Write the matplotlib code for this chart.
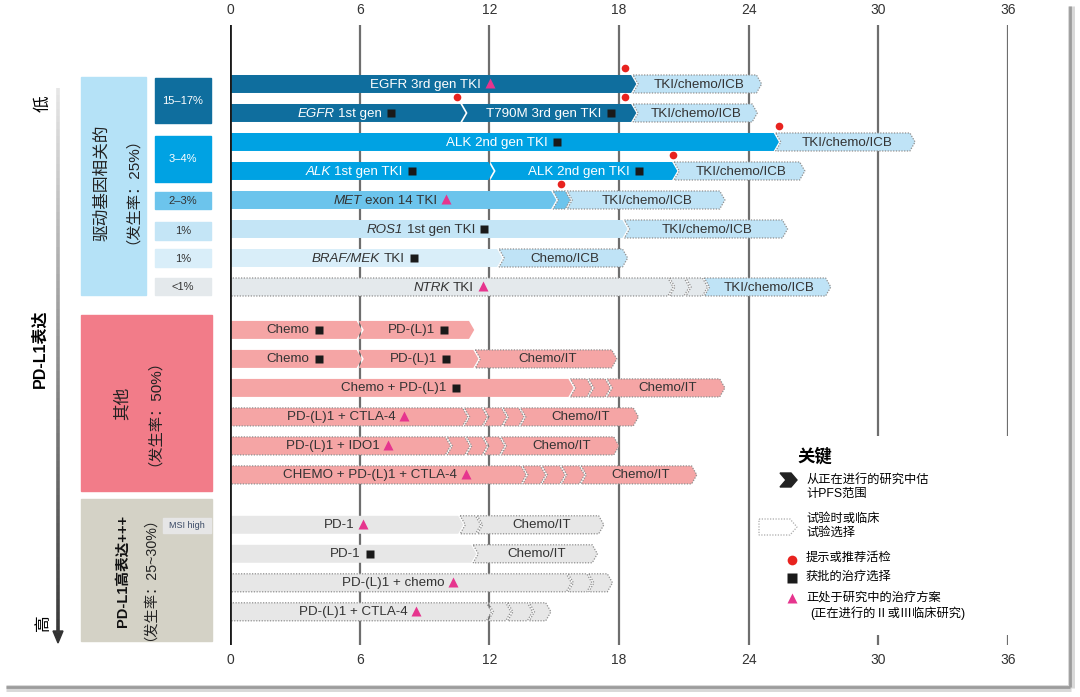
import matplotlib
matplotlib.use("Agg")
import numpy as np
import matplotlib.pyplot as plt
from matplotlib.patches import Polygon, Rectangle
from matplotlib.collections import LineCollection

plt.rcParams['font.family'] = ['Liberation Sans', 'Noto Sans CJK SC', 'DejaVu Sans']

# ---- data -------------------------------------------------------------
months = [0, 6, 12, 18, 24, 30, 36]
group_sizes = [8, 6, 4]

# end of each therapy segment (months), one list per row
seg_ends = [
    [18.8, 24.6],
    [10.9, 18.8, 24.4],
    [25.4, 31.7],
    [12.2, 20.7, 26.6],
    [15.1, 15.75, 22.9],
    [18.4, 25.8],
    [12.6, 18.4],
    [20.5, 21.25, 22.1, 27.8],
    [6.1, 11.3],
    [6.1, 11.5, 17.9],
    [15.9, 16.75, 17.6, 22.9],
    [11.0, 11.9, 12.8, 13.6, 18.9],
    [10.2, 11.1, 11.9, 12.7, 18.0],
    [13.7, 14.6, 15.5, 16.4, 21.6],
    [10.8, 11.6, 17.3],
    [11.4, 17.0],
    [15.8, 16.75, 17.7],
    [12.1, 13.0, 14.0, 14.85],
]
# text before "|" is the gene name, set in italics
seg_labels = [
    ["EGFR 3rd gen TKI", "TKI/chemo/ICB"],
    ["EGFR|1st gen", "T790M 3rd gen TKI", "TKI/chemo/ICB"],
    ["ALK 2nd gen TKI", "TKI/chemo/ICB"],
    ["ALK|1st gen TKI", "ALK 2nd gen TKI", "TKI/chemo/ICB"],
    ["MET|exon 14 TKI", "", "TKI/chemo/ICB"],
    ["ROS1|1st gen TKI", "TKI/chemo/ICB"],
    ["BRAF/MEK|TKI", "Chemo/ICB"],
    ["NTRK|TKI", "", "", "TKI/chemo/ICB"],
    ["Chemo", "PD-(L)1"],
    ["Chemo", "PD-(L)1", "Chemo/IT"],
    ["Chemo + PD-(L)1", "", "", "Chemo/IT"],
    ["PD-(L)1 + CTLA-4", "", "", "", "Chemo/IT"],
    ["PD-(L)1 + IDO1", "", "", "", "Chemo/IT"],
    ["CHEMO + PD-(L)1 + CTLA-4", "", "", "", "Chemo/IT"],
    ["PD-1", "", "Chemo/IT"],
    ["PD-1", "Chemo/IT"],
    ["PD-(L)1 + chemo", "", ""],
    ["PD-(L)1 + CTLA-4", "", "", ""],
]
# S = approved (square), T = under study (triangle)
seg_marks = ["T-", "SS-", "S-", "SS-", "T--", "S-", "S-", "T---",
             "SS", "SS-", "S---", "T----", "T----", "T----",
             "T--", "S-", "T--", "T---"]
# 1 = trial / clinical-trial option (dotted outline)
seg_trial = ["01", "001", "01", "001", "011", "01", "01", "1111",
             "00", "001", "0111", "11111", "11111", "11111",
             "011", "01", "111", "1111"]
seg_fill = ["ei", "eei", "ai", "aai", "mmi", "ri", "bi", "nnni",
            "pp", "ppp", "pppp", "ppppp", "ppppp", "ppppp",
            "ggg", "gg", "ggg", "gggg"]
# where a biopsy is suggested
biopsy_rows = [0, 1, 1, 2, 3, 4]
biopsy_at = [18.3, 10.5, 18.3, 25.4, 20.5, 15.3]

driver_freq = ["15–17%", "3–4%", "2–3%", "1%", "1%", "<1%"]

# ---- style ------------------------------------------------------------
fills = {'e': '#0f6e9e', 'a': '#00a2e3', 'm': '#6cc4ec', 'r': '#c4e5f6',
         'b': '#d9eef9', 'n': '#e4e9ec', 'i': '#bfe3f6', 'p': '#f5a5a5',
         'g': '#e7e7e7'}
light_text = {'e', 'a'}
TIP = 0.24
GAP = 0.09
HH = 0.31
GRID = '#6e6e6e'

fig = plt.figure(figsize=(10.8, 6.97), dpi=100)
fig.patch.set_facecolor('white')

# overlay in pixel coordinates for the side panels and the key
axp = fig.add_axes([0, 0, 1, 1], zorder=0)
axp.set_xlim(0, 1080)
axp.set_ylim(697, 0)
axp.axis('off')

ax = fig.add_axes([230 / 1080, 1 - 645 / 697, 778 / 1080, 620 / 697], zorder=1)
ax.patch.set_alpha(0)
ax.set_xlim(0, 36)
ax.set_ylim(19.345, -2.034)
for s in ax.spines.values():
    s.set_visible(False)
ax.set_yticks([])
ax.set_xticks(months)
ax.tick_params(axis='x', top=True, labeltop=True, bottom=True, labelbottom=True,
               length=0, labelsize=10, labelcolor='#333333', pad=6)

# row positions
row_y = []
gaps = [0, 0.48, 1.2]
k = 0
for g, n in enumerate(group_sizes):
    for i in range(n):
        row_y.append(k + gaps[g])
        k += 1

# grid
for m in months:
    if m == 0:
        ax.axvline(0, color='#1a1a1a', lw=2, zorder=4)
    elif m in (30, 36):
        ax.vlines(m, -2.034, 12.14, color=GRID, lw=1.6, zorder=0)
        ax.vlines(m, 19.0, 19.345, color=GRID, lw=1.6, zorder=0)
    else:
        ax.axvline(m, color=GRID, lw=1.6, zorder=0)

tagged = []
for r, yc in enumerate(row_y):
    ends = seg_ends[r]
    for j, x1 in enumerate(ends):
        notch = j > 0
        x0 = ends[j - 1] - TIP + GAP if notch else 0
        top, bot = yc - HH, yc + HH
        pts = [(x0, top), (x1 - TIP, top), (x1, yc), (x1 - TIP, bot), (x0, bot)]
        if notch:
            pts.append((x0 + TIP, yc))
        key = seg_fill[r][j]
        if seg_trial[r][j] == '1':
            poly = Polygon(pts, closed=True, facecolor=fills[key], edgecolor='#8f8f8f',
                           lw=0.9, ls=(0, (1, 1.2)), zorder=2)
        else:
            poly = Polygon(pts, closed=True, facecolor=fills[key], edgecolor='none',
                           zorder=2)
        ax.add_patch(poly)
        lab = seg_labels[r][j]
        if not lab:
            continue
        xc = (x0 + (TIP if notch else 0) + x1 - TIP / 2) / 2
        col = 'white' if key in light_text else '#333333'
        parts = []
        if '|' in lab:
            gene, lab = lab.split('|')
            parts.append(ax.text(xc, yc + 0.02, gene, ha='left', va='center',
                                 fontsize=9.6, color=col, style='italic', zorder=5))
        parts.append(ax.text(xc, yc + 0.02, lab, ha='left', va='center',
                             fontsize=9.6, color=col, zorder=5))
        tagged.append((parts, xc, yc, seg_marks[r][j]))

for r, x in zip(biopsy_rows, biopsy_at):
    ax.plot(x, row_y[r] - 0.55, 'o', color='#e8231f', ms=5.5, mec='none', zorder=6)

# centre label + marker inside each segment
fig.canvas.draw()
rend = fig.canvas.get_renderer()
ppm = ax.transData.transform((1, 0))[0] - ax.transData.transform((0, 0))[0]
space = 3.6 / ppm
for parts, xc, yc, mk in tagged:
    widths = [p.get_window_extent(rend).width / ppm for p in parts]
    total = sum(widths) + space * (len(parts) - 1)
    if mk != '-':
        total += 13 / ppm
    x = xc - total / 2
    for p, w in zip(parts, widths):
        p.set_x(x)
        x += w + space
    x -= space
    mx = x + 9 / ppm
    if mk == 'S':
        ax.plot(mx, yc, 's', color='#1a1a1a', ms=6.3, mec='none', zorder=6)
    elif mk == 'T':
        ax.plot(mx, yc - 0.04, '^', color='#e6358e', ms=7.5, mec='none', zorder=6)

# ---- left side panels --------------------------------------------------
axp.add_patch(Rectangle((81, 77), 65, 218, color='#b5e2f7'))
axp.text(102, 183, "驱动基因相关的", rotation=90, fontsize=12, ha='center',
         va='center', color='#222222')
axp.text(125, 183, "（发生率：25%）", rotation=90, fontsize=11, ha='center',
         va='center', color='#222222')

box_rows = [(78, 123), (136, 182), (192, 209), (222, 240), (249, 267), (278, 295)]
box_keys = ['e', 'a', 'm', 'r', 'b', 'n']
for (y0, y1), key, lab in zip(box_rows, box_keys, driver_freq):
    axp.add_patch(Rectangle((155, y0), 56, y1 - y0, color=fills[key]))
    axp.text(183, (y0 + y1) / 2 + 0.5, lab, ha='center', va='center', fontsize=8,
             color='white' if key in light_text else '#333333')

axp.add_patch(Rectangle((81, 315), 131, 176, color='#f27c89'))
axp.text(122, 403, "其他", rotation=90, fontsize=12, ha='center', va='center',
         color='#222222')
axp.text(147, 405, "（发生率：50%）", rotation=90, fontsize=11, ha='center',
         va='center', color='#222222')

axp.add_patch(Rectangle((81, 499), 131, 142, color='#d4d2c6'))
axp.text(123, 571, "PD-L1高表达+++", rotation=90, fontsize=10.5, ha='center',
         va='center', color='#111111', fontweight='bold')
axp.text(143, 572, "（发生率：25~30%）", rotation=90, fontsize=10.3, ha='center',
         va='center', color='#222222')
axp.add_patch(Rectangle((163, 518), 48, 15, color='#e6e6e6'))
axp.text(187, 525.5, "MSI high", ha='center', va='center', fontsize=6.5,
         color='#3a4a66')

# PD-L1 expression arrow
ys = np.linspace(88, 633, 80)
segs = [[(58, ys[i]), (58, ys[i + 1])] for i in range(len(ys) - 1)]
shade = np.linspace(0.9, 0.22, len(segs))
axp.add_collection(LineCollection(segs, colors=[(s, s, s) for s in shade], lw=2.6))
axp.add_patch(Polygon([(53, 631), (63, 631), (58, 643)], color='#333333'))
axp.text(43, 104, "低", rotation=90, fontsize=12, ha='center', va='center')
axp.text(43, 623, "高", rotation=90, fontsize=12, ha='center', va='center')
axp.text(40, 349, "PD-L1表达", rotation=90, fontsize=11.5, ha='center',
         va='center', fontweight='bold')

# ---- key ---------------------------------------------------------------
kfs = 8.8
axp.text(797, 456, "关键", fontsize=12.5, fontweight='bold', ha='left', va='center')
axp.add_patch(Polygon([(780, 473), (791, 473), (797, 480), (791, 487), (780, 487),
                       (786, 480)], color='#222222'))
axp.text(806, 487, "从正在进行的研究中估\n计PFS范围", fontsize=kfs, ha='left',
         va='center', linespacing=1.25)
axp.add_patch(Polygon([(759, 519), (790, 519), (797, 527), (790, 535), (759, 535)],
                      closed=True, facecolor='none', edgecolor='#aaaaaa', lw=0.9,
                      ls=(0, (1, 1.2))))
axp.text(806, 526, "试验时或临床\n试验选择", fontsize=kfs, ha='left', va='center',
         linespacing=1.25)
axp.plot(792, 560, 'o', color='#e8231f', ms=7, mec='none')
axp.text(806, 558, "提示或推荐活检", fontsize=kfs, ha='left', va='center')
axp.plot(792, 578, 's', color='#1a1a1a', ms=6.5, mec='none')
axp.text(806, 577, "获批的治疗选择", fontsize=kfs, ha='left', va='center')
axp.plot(792, 598, '^', color='#e6358e', ms=7.5, mec='none')
axp.text(806, 598, "正处于研究中的治疗方案", fontsize=kfs, ha='left', va='center')
axp.text(810, 613, "(正在进行的Ⅱ或Ⅲ临床研究)", fontsize=kfs, ha='left', va='center')

# drop shadow of the frame
axp.plot([1071, 1071], [6, 688], color='#d8d8d8', lw=5, solid_capstyle='butt')
axp.plot([6, 1071], [688, 688], color='#d8d8d8', lw=5, solid_capstyle='butt')
axp.plot([1070, 1070], [6, 687], color='#9c9c9c', lw=2, solid_capstyle='butt')
axp.plot([6, 1070], [687, 687], color='#9c9c9c', lw=2, solid_capstyle='butt')

fig.savefig("out.png", dpi=100, facecolor='white')
